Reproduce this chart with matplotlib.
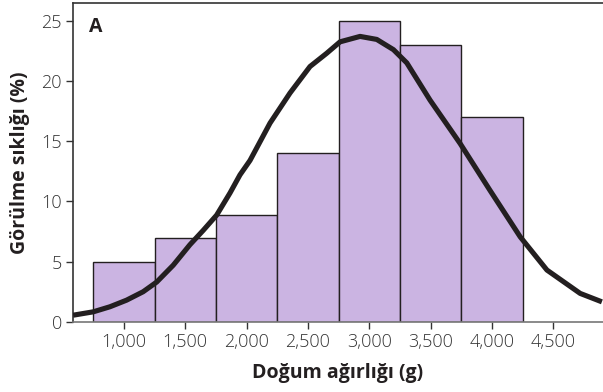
import numpy as np
import matplotlib.pyplot as plt

plt.rcParams['font.family'] = ['Open Sans', 'DejaVu Sans']

# histogram bins (birth weight, g) and frequency (%)
bin_centers = [1000, 1500, 2000, 2500, 3000, 3500, 4000]
freq = [5.0, 7.0, 8.9, 14.0, 25.0, 23.0, 17.0]

# fitted curve
curve_x = [586, 750, 886, 1022, 1157, 1267, 1402, 1538, 1647, 1756, 1865,
           1946, 2028, 2191, 2354, 2517, 2653, 2762, 2925, 3061, 3197,
           3306, 3496, 3741, 3985, 4230, 4448, 4719, 4896]
curve_y = [0.55, 0.83, 1.25, 1.8, 2.5, 3.3, 4.7, 6.4, 7.6, 8.86, 10.7,
           12.2, 13.4, 16.5, 19.0, 21.2, 22.3, 23.25, 23.7, 23.45, 22.6,
           21.5, 18.4, 14.8, 10.9, 7.06, 4.3, 2.36, 1.66]

xticks = [1000, 1500, 2000, 2500, 3000, 3500, 4000, 4500]
xtick_labels = ['1,000', '1,500', '2,000', '2,500', '3,000', '3,500', '4,000', '4,500']
yticks = [0, 5, 10, 15, 20, 25]

fig = plt.figure(figsize=(6.03, 3.92), dpi=100)
ax = fig.add_axes([0.121, 0.179, 0.879, 0.8126])

ax.bar(bin_centers, freq, width=500, color='#cbb4e2', edgecolor='#231f20', linewidth=1.0, zorder=2)
ax.plot(curve_x, curve_y, color='#231f20', linewidth=3.7, solid_joinstyle='round',
        solid_capstyle='butt', zorder=3)

ax.set_xlim(585, 4905)
ax.set_ylim(0, 26.45)
ax.set_xticks(xticks)
ax.set_xticklabels(xtick_labels)
ax.set_yticks(yticks)
ax.tick_params(axis='both', direction='out', length=5, width=1, colors='#333333',
               labelsize=13, pad=3)
for lbl in ax.get_xticklabels() + ax.get_yticklabels():
    lbl.set_fontweight('light')

ax.spines['right'].set_visible(False)
for s in ['left', 'top']:
    ax.spines[s].set_color('#333333')
    ax.spines[s].set_linewidth(1.2)
ax.spines['bottom'].set_color('#777777')
ax.spines['bottom'].set_linewidth(1.2)

ax.set_xlabel('Doğum ağırlığı (g)', fontsize=14, fontweight='bold', color='#231f20', labelpad=9)
ax.set_ylabel('Görülme sıklığı (%)', fontsize=14, fontweight='bold', color='#231f20', labelpad=8)

ax.text(0.03, 0.925, 'A', transform=ax.transAxes, fontsize=14, fontweight='bold',
        color='#231f20', va='center', ha='left')

fig.savefig('out.png', dpi=100)
